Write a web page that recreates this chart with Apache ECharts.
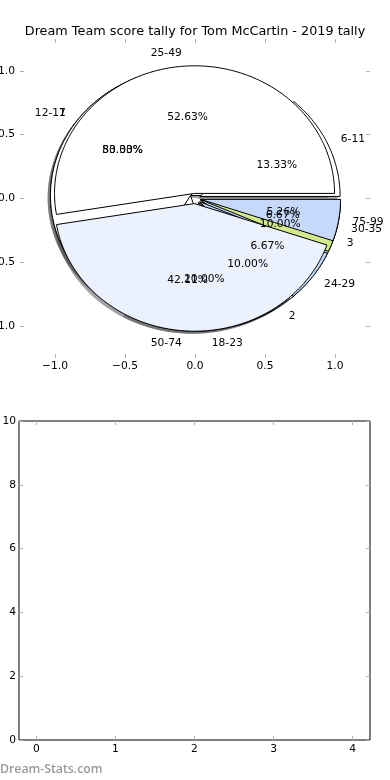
<!DOCTYPE html>
<html><head><meta charset="utf-8">
<script src="https://cdn.jsdelivr.net/npm/echarts@6/dist/echarts.min.js"></script>
<style>html,body{margin:0;padding:0;background:#fff}#c{width:390px;height:780px}</style>
</head><body><div id="c"></div>
<script>
// ---- data ----
const titleText = 'Dream Team score tally for Tom McCartin - 2019 tally';
const pie1Labels = ['25-49', '50-74', '75-99'];
const pie1Values = [10, 8, 1];
const pie2Labels = ['6-11', '12-17', '18-23', '24-29', '30-35'];
const pie2Values = [2, 8, 3, 1, 1];
const pie3Labels = ['1', '2', '3'];
const pie3Values = [8, 1, 1];
const pieTicks = [-1, -0.5, 0, 0.5, 1];
const barXTicks = [0, 1, 2, 3, 4];
const barYTicks = [0, 2, 4, 6, 8, 10];
const watermark = 'Dream-Stats.com';

// ---- styles ----
const pie1Colors = ['#ffffff', '#ebf1fd', '#c6d9fa'];
const pie2Colors = ['#ffffff', '#ffffff', '#ebf1fd', '#c6d9fa', '#d2e98c'];
const pie3Colors = ['#ffffff', '#ebf1fd', '#c6d9fa'];
const explode = 0.04;
const FONT = 'DejaVu Sans';
const FS = 10.7;
const TICK = '#b0b0b0';

function buildSlices(labels, values, colors) {
  const total = values.reduce((a, b) => a + b, 0);
  let acc = 0;
  return values.map((v, i) => {
    const t1 = acc / total * 360; acc += v; const t2 = acc / total * 360;
    const mid = (t1 + t2) / 2 * Math.PI / 180;
    return { label: labels[i], pct: (v / total * 100).toFixed(2) + '%', t1, t2, mid,
      cx: explode * Math.cos(mid), cy: explode * Math.sin(mid), color: colors[i % colors.length] };
  });
}
const s1 = buildSlices(pie1Labels, pie1Values, pie1Colors);
const s2 = buildSlices(pie2Labels, pie2Values, pie2Colors);
const s3 = buildSlices(pie3Labels, pie3Values, pie3Colors);
const allSlices = s3.concat(s2, s1);

function wedgePoints(api, s, dx, dy) {
  const pts = [api.coord([s.cx + dx, s.cy + dy])];
  const n = Math.max(2, Math.ceil(s.t2 - s.t1));
  for (let k = 0; k <= n; k++) {
    const a = (s.t1 + (s.t2 - s.t1) * k / n) * Math.PI / 180;
    pts.push(api.coord([s.cx + dx + Math.cos(a), s.cy + dy + Math.sin(a)]));
  }
  return pts;
}
function shade(hex) {
  const r = parseInt(hex.slice(1, 3), 16), g = parseInt(hex.slice(3, 5), 16), b = parseInt(hex.slice(5, 7), 16);
  return 'rgba(' + Math.round(r * 0.3) + ',' + Math.round(g * 0.3) + ',' + Math.round(b * 0.3) + ',0.5)';
}
function wedgeSeries(slices, z) {
  return {
    type: 'custom', coordinateSystem: 'cartesian2d', xAxisIndex: 0, yAxisIndex: 0, z: z, silent: true,
    data: slices.map(s => [s.cx, s.cy]),
    renderItem: function (params, api) {
      const s = slices[params.dataIndex];
      return { type: 'polygon', shape: { points: wedgePoints(api, s, 0, 0) },
        style: { fill: s.color, stroke: '#000', lineWidth: 1, lineJoin: 'round' } };
    }
  };
}
const fmt = v => (v < 0 ? '\u2212' : '') + Math.abs(v).toFixed(1);

const chart = echarts.init(document.getElementById('c'), null, { renderer: 'canvas' });
const tickStyle = (vals) => {
  const t = { show: true, inside: true, length: 4, lineStyle: { color: TICK, width: 1 } };
  if (vals) t.customValues = vals;
  return t;
};
const tickAxis = (extra) => Object.assign({
  type: 'value', axisLine: { show: false, onZero: false }, splitLine: { show: false },
  axisTick: tickStyle(null), axisLabel: { show: false }
}, extra);
const lbl = (vals, extra) => Object.assign({ show: true, color: '#000', fontFamily: FONT, fontSize: FS }, vals ? { customValues: vals } : {}, extra);

chart.setOption({
  animation: false,
  backgroundColor: '#fff',
  title: { text: titleText, left: 'center', top: 20,
    textStyle: { fontFamily: FONT, fontSize: 12.8, fontWeight: 'normal', color: '#000' } },
  grid: [
    { left: 20, top: 39, width: 350, height: 319, outerBoundsMode: 'none', containLabel: false },
    { left: 19, top: 421, width: 351, height: 319, outerBoundsMode: 'none', containLabel: false,
      show: true, borderColor: '#000', borderWidth: 1, backgroundColor: 'transparent' }
  ],
  xAxis: [
    tickAxis({ gridIndex: 0, position: 'bottom', min: -1.25, max: 1.25, axisTick: tickStyle(pieTicks),
      axisLabel: lbl(pieTicks, { formatter: fmt, margin: 3 }) }),
    tickAxis({ gridIndex: 0, position: 'top', min: -1.25, max: 1.25, axisTick: tickStyle(pieTicks) }),
    tickAxis({ gridIndex: 1, position: 'bottom', min: -0.22, max: 4.22, axisTick: tickStyle(barXTicks),
      axisLabel: lbl(barXTicks, { margin: 4 }) }),
    tickAxis({ gridIndex: 1, position: 'top', min: -0.22, max: 4.22, axisTick: tickStyle(barXTicks) })
  ],
  yAxis: [
    tickAxis({ gridIndex: 0, position: 'left', min: -1.25, max: 1.25, axisTick: tickStyle(pieTicks),
      axisLabel: lbl(pieTicks, { formatter: fmt, margin: 5 }) }),
    tickAxis({ gridIndex: 0, position: 'right', min: -1.25, max: 1.25, axisTick: tickStyle(pieTicks) }),
    tickAxis({ gridIndex: 1, position: 'left', min: 0, max: 10, axisTick: tickStyle(barYTicks),
      axisLabel: lbl(barYTicks, { margin: 3 }) }),
    tickAxis({ gridIndex: 1, position: 'right', min: 0, max: 10, axisTick: tickStyle(barYTicks) })
  ],
  graphic: [
    { type: 'text', left: 0, top: 763, silent: true,
      style: { text: watermark, fill: '#999999', fontFamily: 'Open Sans', fontWeight: 600, fontSize: 12.3 } }
  ],
  series: [
    { // shadows (beneath all wedges)
      type: 'custom', coordinateSystem: 'cartesian2d', xAxisIndex: 0, yAxisIndex: 0, z: 1, silent: true,
      data: allSlices.map(s => [s.cx, s.cy]),
      renderItem: function (params, api) {
        const s = allSlices[params.dataIndex];
        return { type: 'polygon', shape: { points: wedgePoints(api, s, -0.02, -0.02) },
          style: { fill: shade(s.color) } };
      }
    },
    wedgeSeries(s3, 2),
    wedgeSeries(s2, 3),
    wedgeSeries(s1, 4),
    { // labels
      type: 'custom', coordinateSystem: 'cartesian2d', xAxisIndex: 0, yAxisIndex: 0, z: 5, silent: true,
      data: allSlices.map(s => [s.cx, s.cy]),
      renderItem: function (params, api) {
        const s = allSlices[params.dataIndex];
        const lx = s.cx + 1.1 * Math.cos(s.mid), ly = s.cy + 1.1 * Math.sin(s.mid);
        const px = s.cx + 0.6 * Math.cos(s.mid), py = s.cy + 0.6 * Math.sin(s.mid);
        const lp = api.coord([lx, ly]), pp = api.coord([px, py]);
        return { type: 'group', children: [
          { type: 'text', style: { text: s.label, x: lp[0], y: lp[1], fill: '#000', fontFamily: FONT, fontSize: FS,
            align: lx > 0 ? 'left' : 'right', verticalAlign: 'middle' } },
          { type: 'text', style: { text: s.pct, x: pp[0], y: pp[1], fill: '#000', fontFamily: FONT, fontSize: FS,
            align: 'center', verticalAlign: 'middle' } }
        ] };
      }
    }
  ]
});
</script>
</body></html>
